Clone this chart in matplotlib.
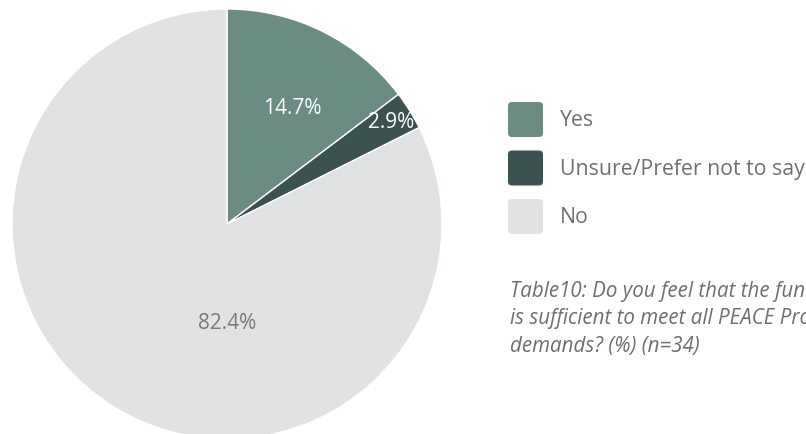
import numpy as np
import matplotlib.pyplot as plt
from matplotlib.patches import FancyBboxPatch

plt.rcParams['font.family'] = ['Open Sans', 'DejaVu Sans']

labels = ['Yes', 'Unsure/Prefer not to say', 'No']
values = [14.7, 2.9, 82.4]
colors = ['#6a8c83', '#3c5250', '#e1e2e3']
label_colors = ['white', 'white', '#77797b']
caption = ('Table10: Do you feel that the funding provided\n'
           'is sufficient to meet all PEACE Programme\n'
           'demands? (%) (n=34)')

W, H = 806, 435
fig = plt.figure(figsize=(W / 100, H / 100), dpi=100)
ax = fig.add_axes([0, 0, 1, 1])

cx, cy, r = 227, 210, 215
wedges, _ = ax.pie(values, colors=colors, startangle=90, counterclock=False,
                   center=(cx, cy), radius=r,
                   wedgeprops=dict(edgecolor='white', linewidth=1.0))

# pie() sets its own limits, so pin the pixel frame afterwards
ax.set_xlim(0, W)
ax.set_ylim(0, H)
ax.set_aspect('equal')
ax.axis('off')

# percentage labels: first two near the wedge middle, the big one straight down
dists = [0.62, 0.9, 0.46]
nudge = [-3, 0, 0]
for w, v, d, dn, c in zip(wedges, values, dists, nudge, label_colors):
    ang = np.deg2rad((w.theta1 + w.theta2) / 2 + dn)
    if v > 50:
        ang = np.deg2rad(-90)
    ax.text(cx + d * r * np.cos(ang), cy + d * r * np.sin(ang), f'{v}%',
            ha='center', va='center', fontsize=15, color=c)

# legend with rounded swatches
lx, ly0, step, sz = 508, 297, 48.5, 35
for i, (lab, col) in enumerate(zip(labels, colors)):
    y = ly0 - i * step
    ax.add_patch(FancyBboxPatch((lx + 4, y + 4), sz - 8, sz - 8,
                                boxstyle='round,pad=4', fc=col, ec='none'))
    ax.text(lx + 52, y + sz / 2, lab, ha='left', va='center',
            fontsize=15.3, color='#6d7073')

ax.text(510, H - 281, caption, ha='left', va='top', fontsize=14.8,
        style='italic', color='#6e6e6e', linespacing=1.4)

fig.savefig('out.png', dpi=100)
